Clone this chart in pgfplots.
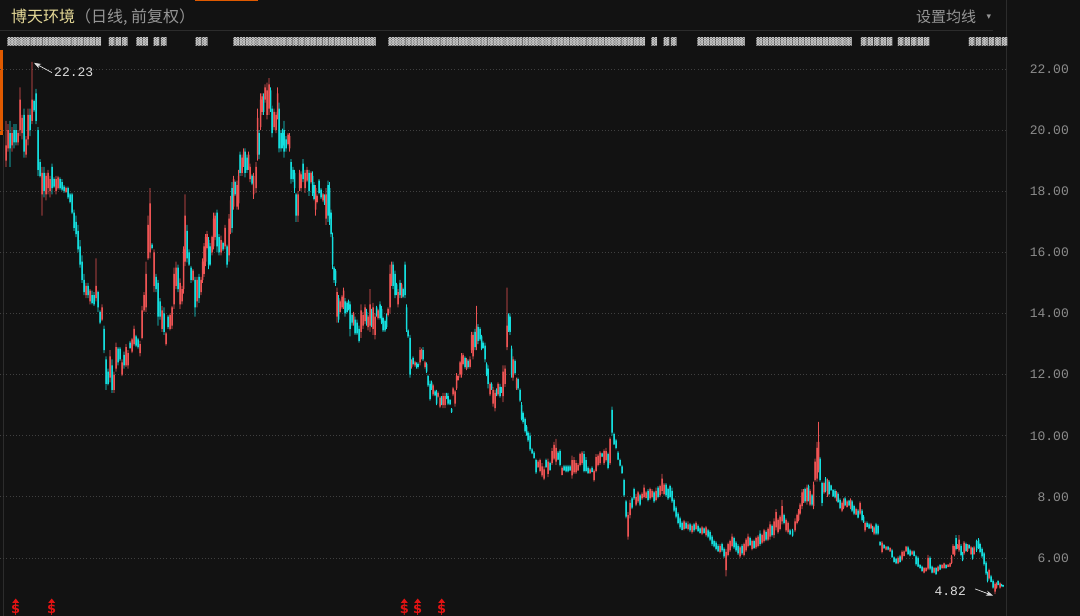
\documentclass[border=0pt]{standalone}
\usepackage{pgfplots}
\pgfplotsset{compat=1.18}
\usepackage{pgfplotstable}
\usetikzlibrary{arrows.meta}
\usepackage{fontspec}
\setmainfont{Liberation Sans}
\newfontfamily\monof{Liberation Mono}
\newfontfamily\cjk{Noto Sans CJK SC}
\newfontfamily\dejavu{DejaVu Sans}
\definecolor{bgc}{RGB}{18,18,18}
\definecolor{upc}{RGB}{238,84,84}
\definecolor{dnc}{RGB}{20,222,222}
\definecolor{gridc}{RGB}{64,64,64}
\definecolor{tickc}{RGB}{140,140,140}
\definecolor{titlec}{RGB}{228,216,150}
\definecolor{subc}{RGB}{150,150,150}
\definecolor{linec}{RGB}{44,44,44}
\definecolor{mosc}{RGB}{205,205,205}
\definecolor{annc}{RGB}{222,222,222}
\definecolor{divc}{RGB}{225,20,20}
\definecolor{orc}{RGB}{224,90,0}

\pgfplotstableread{
x d l h bl bh
6 1 18.8 20.3 19.0 19.5
8 1 19.3 20.2 19.4 20.0
10 0 18.8 20.3 19.4 19.9
12 1 19.3 20.1 19.5 19.9
14 0 19.4 20.2 19.6 20.0
16 0 19.5 20.2 19.6 20.0
18 1 19.5 20.0 19.6 19.9
20 1 19.8 21.4 20.0 21.0
22 1 19.7 20.5 19.9 20.4
24 0 19.1 20.7 19.3 20.5
26 1 19.1 19.8 19.2 19.7
28 1 19.5 20.7 19.7 20.5
30 0 19.8 20.7 20.0 20.5
32 1 20.2 22.23 20.3 21.0
34 0 20.6 21.0 20.65 20.95
36 0 20.2 21.35 20.3 21.2
38 0 18.5 20.1 18.7 20.0
40 0 18.45 19.05 18.5 18.95
42 1 17.2 18.8 17.9 18.6
44 0 17.8 18.8 18.0 18.6
46 1 17.7 18.6 17.9 18.5
48 1 17.9 18.7 18.1 18.6
50 1 17.8 18.5 18.0 18.4
52 0 17.9 18.9 18.1 18.8
54 0 18.1 18.45 18.15 18.4
56 1 17.9 18.5 18.0 18.4
58 1 18.05 18.5 18.1 18.45
60 0 18.05 18.45 18.1 18.4
62 0 18.0 18.4 18.05 18.3
64 0 17.95 18.2 18.0 18.15
66 1 17.95 18.15 17.98 18.1
68 0 17.75 18.15 17.8 18.1
70 0 17.6 17.95 17.65 17.9
72 0 17.25 17.95 17.3 17.9
74 0 16.7 17.4 16.8 17.3
76 0 16.5 17.2 16.6 17.0
78 0 16.0 16.9 16.1 16.7
80 0 15.5 16.4 15.6 16.2
82 0 15.0 15.9 15.1 15.7
84 0 14.6 15.3 14.7 15.1
86 1 14.5 15.0 14.6 14.9
88 0 14.5 15.0 14.6 14.9
90 1 14.3 14.8 14.4 14.75
92 0 14.3 14.75 14.35 14.6
94 0 14.25 14.7 14.3 14.6
96 1 14.4 15.8 14.5 14.9
98 0 14.05 14.75 14.2 14.7
100 0 13.65 14.1 13.7 14.05
102 1 13.75 14.3 13.8 14.2
104 0 12.7 13.6 12.8 13.5
106 0 11.5 12.6 11.7 12.5
108 0 11.65 12.2 11.7 12.1
110 1 11.75 12.8 11.9 12.6
112 0 11.4 12.5 11.5 12.3
114 1 11.4 12.1 11.5 12.0
116 1 12.1 13.05 12.2 12.9
118 0 12.3 12.9 12.4 12.85
120 0 12.45 12.9 12.5 12.85
122 1 11.95 12.5 12.0 12.4
124 0 12.2 12.75 12.3 12.65
126 1 12.25 13.0 12.3 12.9
128 1 12.2 12.8 12.3 12.7
130 0 12.85 13.1 12.87 13.05
132 1 12.7 13.2 12.75 13.15
134 1 12.95 13.6 13.0 13.5
136 0 12.9 13.3 12.95 13.25
138 0 12.85 13.2 12.9 13.15
140 1 12.6 13.1 12.7 13.0
142 1 13.15 14.25 13.2 14.1
144 1 14.05 14.7 14.1 14.6
146 1 14.05 15.7 14.2 15.3
148 1 15.75 17.2 15.8 16.9
150 1 15.8 18.1 16.0 17.6
152 0 16.1 16.3 16.15 16.25
154 1 14.7 16.1 14.9 16.0
156 0 14.7 15.3 14.8 15.2
158 0 13.6 15.1 13.9 15.0
160 0 13.8 14.5 13.9 14.4
162 1 13.4 14.25 13.5 14.1
164 0 13.3 14.2 13.4 14.0
166 1 12.95 13.4 13.0 13.35
168 0 13.5 13.95 13.55 13.9
170 1 13.45 14.0 13.5 13.95
172 1 13.5 14.25 13.6 14.2
174 1 14.15 15.5 14.3 15.3
176 1 14.8 15.7 14.9 15.5
178 0 14.7 15.6 14.8 15.5
180 1 14.15 15.15 14.3 15.0
182 1 14.3 14.9 14.4 14.8
183.5 1 14.65 16.2 14.8 16.1
185 1 15.55 17.9 15.7 17.2
187 0 15.67 16.9 15.8 16.7
189 0 15.56 16.1 15.6 16.0
191 0 15.0 15.56 15.1 15.5
193 1 15.05 15.45 15.1 15.4
195 0 13.9 15.2 14.2 15.1
197 1 14.2 15.2 14.4 15.1
199 0 14.35 15.3 14.5 15.2
201 1 14.6 15.2 14.7 15.1
202.5 1 15.0 15.8 15.1 15.7
204 1 15.2 16.3 15.3 16.2
205.5 1 15.55 16.6 15.7 16.5
207 1 16.1 16.7 16.15 16.6
208.5 0 15.45 16.5 15.6 16.4
210 0 15.55 16.3 15.6 16.2
212 1 15.9 16.55 16.0 16.5
213.5 1 16.1 17.3 16.2 17.1
215 1 16.4 17.3 16.5 17.2
217 0 16.0 17.4 16.2 17.3
219 0 15.9 16.6 16.0 16.5
221 1 15.9 16.55 16.0 16.4
223 0 16.05 16.35 16.1 16.3
225 1 16.1 16.9 16.2 16.8
227 0 15.5 16.25 15.6 16.2
229 1 15.7 17.25 15.9 17.1
230.5 1 16.6 17.85 16.8 17.7
232 0 16.65 18.3 16.8 18.1
233.5 1 17.4 18.5 17.5 18.4
235 0 17.85 18.35 17.9 18.3
237 1 17.4 18.35 17.5 18.2
238.5 1 17.4 18.7 17.6 18.5
240 0 18.5 19.3 18.6 19.2
242 1 18.5 19.2 18.6 19.1
243.5 1 18.8 19.4 18.9 19.3
245 0 18.45 19.4 18.6 19.3
247 0 18.6 19.2 18.7 19.1
248.5 1 18.7 19.3 18.8 19.2
250 1 18.3 18.9 18.4 18.8
252 0 18.2 18.55 18.25 18.5
253.5 1 17.75 18.6 17.9 18.5
256 1 17.95 18.95 18.1 18.8
257.5 1 19.0 20.7 19.2 20.4
259 0 19.05 20.0 19.2 19.9
260.5 1 20.0 21.2 20.1 21.0
262 1 20.5 21.2 20.6 21.1
263.5 0 20.5 21.2 20.6 21.1
265 1 20.9 21.5 21.0 21.4
267 1 20.35 21.55 20.5 21.3
269 1 20.5 21.7 20.7 21.5
270.5 0 20.6 21.4 20.8 21.3
272 0 19.76 20.8 19.9 20.7
274 1 20.0 20.7 20.1 20.6
276 1 19.9 20.6 20.0 20.5
277.5 1 20.35 21.4 20.5 21.2
279 0 19.27 20.9 19.4 20.7
281 0 19.3 20.0 19.4 19.9
282.5 0 19.4 20.05 19.5 19.9
284 0 19.1 20.3 19.3 20.0
286 0 19.3 19.8 19.4 19.7
288 1 19.5 19.9 19.55 19.85
289.5 1 19.3 19.9 19.4 19.8
291 0 18.25 19.05 18.4 18.95
293 0 18.3 18.8 18.4 18.7
294.5 0 17.95 18.7 18.1 18.6
296 0 17.0 17.95 17.2 17.9
298 1 17.0 18.0 17.2 17.9
299.5 1 18.0 18.7 18.1 18.6
301 1 18.0 18.65 18.1 18.55
303 0 18.3 19.05 18.4 18.9
305 1 17.95 18.7 18.1 18.6
307 1 18.3 18.8 18.35 18.7
309 0 17.85 18.7 18.0 18.6
311 1 18.25 18.65 18.3 18.6
312.5 0 17.85 18.65 17.95 18.5
314 0 17.7 18.3 17.75 18.2
315.5 1 17.2 18.2 17.4 18.1
317 1 17.6 17.9 17.65 17.85
319 0 17.9 18.4 17.95 18.35
321 0 17.75 18.1 17.8 18.05
323 1 17.65 17.95 17.7 17.9
324.5 0 17.55 17.9 17.6 17.85
326 1 16.9 18.1 17.1 17.9
328 0 17.0 18.35 17.2 18.2
329.5 0 16.9 18.3 17.1 18.1
331 0 16.5 17.4 16.6 17.3
332.5 0 15.45 16.65 15.6 16.5
334 0 15.0 15.55 15.1 15.5
335.5 0 14.9 15.45 15.0 15.4
337 1 13.7 14.85 13.9 14.7
338.5 0 13.7 14.6 13.8 14.5
340 1 14.0 14.45 14.05 14.4
342 1 14.15 14.6 14.2 14.55
343.5 1 14.15 14.85 14.3 14.75
345 0 13.9 14.5 14.0 14.4
347 0 14.0 14.4 14.05 14.35
348.5 0 14.1 14.45 14.15 14.4
350 0 13.25 14.4 13.5 14.3
352 0 13.6 14.0 13.7 13.95
353.5 1 13.6 14.05 13.65 14.0
355 0 13.3 13.9 13.35 13.8
357 0 13.3 13.8 13.35 13.7
359 0 13.05 13.6 13.1 13.5
361 1 13.2 14.3 13.4 14.1
363 1 13.5 14.05 13.6 13.95
365 1 13.65 14.3 13.75 14.2
366.5 0 13.6 14.15 13.7 14.05
368 1 13.45 13.95 13.55 13.9
370 1 13.4 14.8 13.6 14.3
371.5 0 13.55 14.15 13.6 14.05
373 1 13.3 14.35 13.5 14.2
375 1 13.15 14.0 13.3 13.9
376.5 0 13.9 14.25 13.95 14.2
378 1 13.8 14.15 13.85 14.1
380 0 13.8 14.4 13.85 14.3
381.5 0 13.65 14.25 13.7 14.15
383 0 13.4 13.9 13.45 13.85
385 0 13.4 13.8 13.45 13.75
386.5 0 13.5 14.0 13.55 13.9
388 1 13.9 14.2 13.95 14.15
390 1 14.0 15.6 14.2 15.3
391.5 1 14.9 15.7 15.0 15.6
393 0 14.8 15.7 14.9 15.6
395 0 14.5 15.4 14.6 15.3
396.5 0 14.6 15.0 14.65 14.95
398 1 14.2 14.8 14.3 14.7
400 0 14.5 15.1 14.6 15.0
401.5 1 14.5 15.0 14.55 14.95
403 0 14.5 14.85 14.55 14.8
405 0 14.5 15.7 14.6 15.6
406.5 0 13.4 14.3 13.5 14.2
408 0 13.2 13.5 13.25 13.45
410 0 11.9 13.3 12.0 13.2
411.5 1 12.2 12.5 12.25 12.45
413 0 12.3 12.6 12.35 12.55
415 1 12.25 12.45 12.3 12.4
416.5 0 12.2 12.4 12.25 12.35
418 0 12.2 12.4 12.25 12.35
420 1 12.3 12.9 12.4 12.8
421.5 1 12.5 12.85 12.55 12.8
423 0 12.45 12.9 12.5 12.8
425 1 12.2 12.45 12.25 12.4
426.5 0 12.05 12.4 12.1 12.35
428 0 11.6 12.0 11.65 11.95
430 0 11.15 11.8 11.2 11.7
431.5 0 11.5 11.8 11.55 11.75
433 1 11.3 11.7 11.35 11.65
435 0 11.3 11.5 11.32 11.45
436.5 0 11.0 11.5 11.05 11.4
438 1 11.25 11.45 11.28 11.4
440 1 10.9 11.3 10.95 11.25
441.5 0 11.0 11.3 11.05 11.25
443 1 10.9 11.4 11.0 11.3
445 1 10.9 11.4 11.0 11.3
446.5 0 11.2 11.4 11.22 11.38
448 0 11.0 11.4 11.05 11.3
450 0 11.0 11.2 11.03 11.17
451.5 0 10.75 10.9 10.77 10.88
453 1 11.3 11.6 11.35 11.55
455 1 10.95 11.5 11.05 11.45
456.5 1 11.5 12.05 11.55 11.95
458 1 11.8 12.0 11.82 11.95
460 1 11.9 12.45 12.0 12.4
461.5 1 11.9 12.7 12.0 12.6
463 1 12.3 12.7 12.35 12.65
465 0 12.2 12.6 12.25 12.55
466.5 1 12.15 12.55 12.2 12.5
468 0 12.2 12.5 12.25 12.45
470 1 12.2 12.6 12.25 12.5
471.5 1 12.7 13.4 12.8 13.3
473 1 12.5 13.4 12.6 13.3
475 0 12.8 13.5 12.9 13.4
476.5 1 12.8 14.25 13.0 13.6
478 0 13.0 13.65 13.1 13.55
480 0 13.1 13.55 13.15 13.5
481.5 0 12.8 13.3 12.85 13.25
483 0 12.85 13.1 12.87 13.05
485 0 12.4 13.05 12.5 12.95
486.5 0 11.95 12.4 12.0 12.35
488 0 11.55 12.3 11.7 12.2
490 1 11.3 11.75 11.35 11.7
491.5 0 11.5 11.75 11.55 11.7
493 1 10.95 11.6 11.05 11.5
495 1 10.8 11.5 10.9 11.4
496.5 0 11.3 11.55 11.35 11.5
498 1 11.3 11.75 11.35 11.7
500 0 11.25 11.7 11.3 11.6
501.5 0 11.4 11.6 11.42 11.55
503 1 11.1 12.3 11.3 12.1
505 1 11.6 12.3 11.7 12.2
507 1 12.8 14.85 12.9 13.6
508.5 0 13.4 14.0 13.45 13.95
510 0 13.3 14.0 13.4 13.9
511.5 0 11.9 12.95 12.0 12.85
513 1 11.8 12.6 11.9 12.5
515 0 12.0 12.5 12.05 12.45
516.5 1 11.5 11.9 11.55 11.85
518 0 11.5 11.9 11.55 11.85
520 0 11.1 11.55 11.15 11.5
521.5 0 10.5 11.1 10.55 11.0
523 0 10.4 10.8 10.45 10.75
525 0 10.1 10.6 10.15 10.55
526.5 0 10.0 10.35 10.02 10.3
528 0 9.8 10.15 9.85 10.1
530 0 9.5 10.1 9.55 10.0
532 0 9.4 9.6 9.42 9.55
534 0 9.25 9.5 9.27 9.45
536 0 8.75 9.25 8.8 9.2
538 1 8.95 9.2 8.97 9.15
540 1 8.8 9.25 8.85 9.2
542 1 8.65 9.1 8.7 9.0
544 1 8.55 9.0 8.6 8.9
546 0 8.95 9.25 8.97 9.2
548 1 8.65 9.25 8.75 9.15
550 0 8.85 9.15 8.88 9.1
552 1 9.05 9.6 9.1 9.5
554 1 9.2 9.8 9.25 9.7
556 1 9.05 9.9 9.15 9.6
558 0 9.2 9.5 9.22 9.45
560 0 9.0 9.55 9.05 9.5
562 1 8.7 9.0 8.72 8.95
564 0 8.85 9.05 8.87 9.0
566 0 8.8 9.05 8.83 9.0
568 0 8.8 9.05 8.83 9.0
570 0 8.85 9.05 8.87 9.0
572 1 8.6 9.35 8.7 9.2
574 1 8.75 9.3 8.8 9.2
576 1 8.75 9.2 8.8 9.1
578 1 8.85 9.1 8.87 9.05
580 1 9.0 9.45 9.05 9.4
582 1 9.05 9.5 9.1 9.45
584 0 8.8 9.5 8.85 9.4
586 0 8.8 9.3 8.85 9.2
588 0 8.75 9.0 8.78 8.95
590 1 8.75 8.95 8.78 8.9
592 0 8.8 9.0 8.82 8.95
594 1 8.5 8.9 8.55 8.85
596 1 8.8 9.4 8.85 9.3
598 1 9.0 9.4 9.05 9.35
600 1 9.05 9.5 9.1 9.45
602 0 9.3 9.45 9.32 9.42
604 1 9.05 9.55 9.1 9.5
606 1 9.15 9.6 9.2 9.5
608 0 8.9 9.45 8.95 9.4
610 1 9.05 9.95 9.1 9.9
612 0 10.0 10.95 10.1 10.85
614 0 9.7 10.1 9.72 10.05
616 0 9.55 9.9 9.6 9.85
618 0 9.2 9.5 9.22 9.45
620 0 9.0 9.25 9.02 9.2
622 0 8.75 9.05 8.78 9.0
624 0 8.0 8.6 8.05 8.55
626 0 7.3 7.9 7.35 7.85
628 1 6.6 7.5 6.7 7.4
630 1 7.3 7.9 7.4 7.8
632 0 7.6 8.0 7.65 7.95
634 0 7.9 8.3 7.95 8.25
636 1 7.7 8.1 7.75 8.0
638 1 7.8 8.2 7.85 8.15
640 0 7.7 8.1 7.75 8.05
642 1 7.9 8.15 7.95 8.1
644 1 7.95 8.4 8.0 8.3
646 1 7.95 8.2 7.97 8.15
648 0 7.85 8.25 7.9 8.2
650 1 7.9 8.3 7.95 8.25
652 1 7.95 8.25 8.0 8.2
654 0 7.8 8.2 7.85 8.15
656 1 7.85 8.3 7.9 8.2
658 0 7.95 8.35 8.0 8.3
660 1 8.0 8.4 8.05 8.35
662 1 8.1 8.75 8.2 8.6
664 1 8.05 8.45 8.1 8.4
666 0 8.0 8.45 8.05 8.4
668 0 7.9 8.3 7.95 8.25
670 0 7.95 8.4 8.0 8.35
672 0 7.8 8.3 7.85 8.2
674 0 7.5 7.95 7.55 7.9
676 0 7.3 7.7 7.35 7.65
678 0 7.1 7.5 7.15 7.45
680 0 6.95 7.35 7.0 7.3
682 0 6.9 7.2 6.92 7.15
684 1 6.9 7.25 6.95 7.2
686 0 6.95 7.2 6.97 7.15
688 1 6.9 7.2 6.95 7.1
690 0 6.85 7.15 6.9 7.1
692 1 6.8 7.1 6.85 7.05
694 0 6.85 7.15 6.9 7.1
696 1 6.9 7.2 6.95 7.15
698 0 6.85 7.1 6.88 7.05
700 0 6.8 7.0 6.82 6.97
702 1 6.75 7.05 6.8 7.0
704 0 6.8 7.0 6.82 6.97
706 1 6.7 7.05 6.75 7.0
708 0 6.65 6.95 6.7 6.9
710 0 6.55 6.9 6.6 6.85
712 0 6.4 6.75 6.45 6.7
714 0 6.35 6.6 6.38 6.55
716 0 6.25 6.55 6.3 6.5
718 0 6.2 6.45 6.22 6.4
720 1 6.15 6.45 6.2 6.4
722 0 6.2 6.5 6.25 6.45
724 0 6.0 6.35 6.05 6.3
726 1 5.4 6.3 5.6 6.2
728 1 6.05 6.5 6.1 6.45
730 1 6.2 6.6 6.25 6.55
732 1 6.35 6.8 6.4 6.7
734 0 6.3 6.7 6.35 6.65
736 0 6.2 6.55 6.25 6.5
738 0 6.1 6.45 6.15 6.4
740 1 6.0 6.4 6.05 6.35
742 0 6.1 6.45 6.15 6.4
744 1 6.05 6.5 6.1 6.45
746 1 6.2 6.65 6.25 6.6
748 1 6.35 6.8 6.4 6.7
750 0 6.4 6.7 6.42 6.65
752 1 6.25 6.6 6.3 6.55
754 0 6.3 6.6 6.33 6.55
756 1 6.3 6.7 6.35 6.65
758 1 6.35 6.75 6.4 6.7
760 0 6.4 6.9 6.45 6.8
762 1 6.45 6.8 6.5 6.75
764 1 6.5 6.95 6.55 6.9
766 0 6.55 6.9 6.6 6.85
768 1 6.55 7.0 6.6 6.95
770 1 6.6 7.2 6.7 7.1
772 0 6.7 7.1 6.75 7.05
774 1 6.65 7.3 6.75 7.2
776 1 6.9 7.6 7.0 7.5
778 1 6.8 7.3 6.85 7.25
780 1 6.9 7.4 6.95 7.35
782 1 7.1 7.9 7.2 7.7
784 0 7.1 7.45 7.15 7.4
786 1 6.85 7.3 6.9 7.25
788 1 6.8 7.2 6.85 7.15
790 0 6.75 6.95 6.77 6.9
792.5 0 6.7 6.95 6.73 6.9
795 1 6.85 7.3 6.9 7.2
797 1 7.1 7.45 7.15 7.4
798.5 1 7.2 7.6 7.25 7.55
800 1 7.4 7.8 7.45 7.75
802 1 7.6 8.25 7.7 8.15
803.5 1 7.8 8.25 7.85 8.2
805 0 7.8 8.3 7.85 8.25
807 1 7.75 8.4 7.85 8.3
808.5 0 7.85 8.4 7.9 8.35
810 1 7.7 8.25 7.75 8.2
812 0 7.7 8.1 7.75 8.05
813.5 1 7.6 8.5 7.7 8.4
815 1 8.5 9.25 8.55 9.15
817 1 8.5 9.8 8.6 9.6
818.5 1 8.8 10.45 8.9 9.8
820 0 8.5 9.3 8.55 9.25
822 0 7.7 8.5 7.8 8.45
824 1 8.1 8.5 8.15 8.45
825.5 0 8.15 8.65 8.2 8.6
827.5 1 8.0 8.6 8.05 8.55
829 0 8.05 8.55 8.1 8.5
831 0 8.2 8.4 8.22 8.38
833 0 8.0 8.25 8.02 8.22
835 0 7.95 8.25 7.98 8.2
836.5 1 7.85 8.2 7.88 8.15
838 0 7.8 8.15 7.83 8.1
840 0 7.6 7.95 7.63 7.9
842 1 7.5 7.85 7.55 7.8
843.5 1 7.6 7.95 7.65 7.9
845 0 7.7 8.0 7.72 7.95
847 1 7.65 7.9 7.67 7.85
849 0 7.7 7.9 7.72 7.88
850.5 1 7.6 7.95 7.65 7.9
852 0 7.5 7.9 7.55 7.85
854 0 7.4 7.75 7.45 7.7
856 1 7.4 7.65 7.42 7.6
858 0 7.3 7.6 7.32 7.55
860 1 7.4 7.85 7.45 7.8
862 0 7.2 7.6 7.25 7.55
863.5 0 7.15 7.4 7.17 7.35
865 1 6.85 7.2 6.9 7.15
867 0 7.0 7.2 7.02 7.15
869 0 6.95 7.15 6.97 7.1
871 1 6.95 7.15 6.97 7.1
872.5 0 6.85 7.05 6.87 7.0
874 1 6.75 7.05 6.8 7.0
876 0 6.75 7.15 6.8 7.1
878 0 6.75 7.1 6.8 7.05
880 0 6.4 6.55 6.42 6.52
882 1 6.15 6.55 6.2 6.5
884 0 6.3 6.45 6.32 6.42
886 1 6.25 6.4 6.27 6.37
888 0 6.25 6.4 6.27 6.37
890 1 6.2 6.35 6.22 6.33
892 0 6.0 6.3 6.03 6.25
894 0 5.85 6.05 5.87 6.02
896 0 5.8 6.0 5.82 5.97
898 1 5.8 6.05 5.82 6.0
900 0 5.85 6.1 5.87 6.05
902 1 5.9 6.25 5.95 6.2
904 1 6.05 6.25 6.07 6.22
906 1 6.2 6.4 6.22 6.37
908 0 6.1 6.4 6.13 6.35
910 0 6.05 6.3 6.08 6.25
912 1 6.1 6.25 6.12 6.22
914 0 6.05 6.25 6.07 6.22
916 0 5.75 6.1 5.8 6.05
918 0 5.7 6.05 5.72 6.0
920 0 5.65 5.8 5.67 5.77
922 0 5.55 5.75 5.57 5.72
924 1 5.5 5.7 5.52 5.67
926 1 5.55 5.7 5.57 5.67
928 1 5.6 6.1 5.65 6.0
930 0 5.6 6.05 5.65 6.0
932 0 5.5 5.75 5.52 5.72
934 1 5.5 5.7 5.52 5.67
936 0 5.45 5.7 5.47 5.67
938 1 5.55 5.75 5.57 5.72
940 0 5.6 5.8 5.62 5.77
942 1 5.65 5.8 5.67 5.77
944 1 5.65 5.85 5.67 5.82
946 0 5.65 5.8 5.67 5.77
948 1 5.7 5.8 5.71 5.78
950 1 5.7 5.85 5.72 5.82
951.5 1 5.8 6.1 5.83 6.05
953 1 6.1 6.45 6.13 6.4
954.5 1 6.05 6.4 6.1 6.35
956 0 6.25 6.75 6.3 6.65
957.5 1 6.3 6.45 6.32 6.42
959 1 6.2 6.75 6.25 6.6
961 0 6.05 6.45 6.1 6.4
962.5 0 5.9 6.2 5.93 6.15
964 1 6.1 6.55 6.15 6.5
966 0 6.2 6.5 6.23 6.45
967.5 1 6.2 6.45 6.23 6.4
969 0 6.3 6.45 6.32 6.42
971 1 6.1 6.4 6.13 6.35
972.5 0 5.95 6.35 6.0 6.3
974 1 6.1 6.4 6.13 6.35
976.5 0 6.2 6.6 6.25 6.55
978.5 0 6.3 6.65 6.33 6.6
980 0 6.15 6.5 6.2 6.45
982 0 6.0 6.35 6.05 6.3
984 0 5.75 6.2 5.8 6.15
986 0 5.45 5.9 5.5 5.85
987.5 0 5.2 5.55 5.25 5.5
989 1 5.3 5.65 5.33 5.6
991 0 5.2 5.45 5.22 5.4
993 0 5.0 5.3 5.03 5.25
995 1 4.82 5.2 4.9 5.15
996.5 1 5.0 5.2 5.03 5.15
998 0 5.1 5.27 5.12 5.25
1000 1 5.0 5.2 5.03 5.17
1001.5 0 5.07 5.15 5.08 5.13
1003 0 5.05 5.13 5.06 5.11
}\candles

\pgfplotsset{
  frame/.style={
    at={(0pt,0pt)}, anchor=south west, scale only axis,
    width=1006pt, height=586pt,
    xmin=0, xmax=1006, ymin=4.102, ymax=23.276,
    axis line style={draw=none}, tick style={draw=none},
    major tick length=0pt, xtick=\empty, clip=false,
  },
}

\begin{document}
\begin{tikzpicture}
\fill[bgc] (0,0) rectangle (1080pt,616pt);
\draw[linec, line width=1pt] (0,585.5pt) -- (993pt,585.5pt);
\draw[linec, line width=1pt] (1006.5pt,0) -- (1006.5pt,616pt);
\draw[linec, line width=1pt] (3.5pt,0) -- (3.5pt,481pt);
\fill[orc] (0,481pt) rectangle (3pt,566pt);
\fill[orc] (195pt,615pt) rectangle (258pt,616pt);
% main axis: grid, price labels, candle bodies
\begin{axis}[frame,
  ytick={6,8,10,12,14,16,18,20,22},
  yticklabels={6.00,8.00,10.00,12.00,14.00,16.00,18.00,20.00,22.00},
  yticklabel pos=right,
  yticklabel style={anchor=east, inner sep=0pt, xshift=63pt, text=tickc, font=\monof\fontsize{13}{13}\selectfont},
  ymajorgrids,
  grid style={gridc, line width=0.9pt, dash pattern=on 1pt off 2.2pt},
  ybar stacked, bar width=1.5pt,
]
\addplot[draw=none, fill=none, forget plot] table[x=x, y=bl] {\candles};
\addplot[draw=none, fill=upc, forget plot] table[x=x, y expr={\thisrow{d}*(\thisrow{bh}-\thisrow{bl})}] {\candles};
\addplot[draw=none, fill=dnc, forget plot] table[x=x, y expr={(1-\thisrow{d})*(\thisrow{bh}-\thisrow{bl})}] {\candles};
\end{axis}
% overlay axis: candle wicks
\begin{axis}[frame, ytick=\empty, ybar stacked, bar width=0.9pt]
\addplot[draw=none, fill=none, forget plot] table[x=x, y=l] {\candles};
\addplot[draw=none, fill=upc, forget plot] table[x=x, y expr={\thisrow{d}*(\thisrow{h}-\thisrow{l})}] {\candles};
\addplot[draw=none, fill=dnc, forget plot] table[x=x, y expr={(1-\thisrow{d})*(\thisrow{h}-\thisrow{l})}] {\candles};
% annotations
\draw[annc, line width=0.7pt, -{Stealth[length=7pt,width=5pt]}] (axis cs:52,21.88) -- (axis cs:34,22.2);
\node[anchor=west, inner sep=0pt, text=annc, font=\monof\fontsize{13}{13}\selectfont] at (axis cs:54,21.88) {22.23};
\node[anchor=east, inner sep=0pt, text=annc, font=\monof\fontsize{13}{13}\selectfont] at (axis cs:966,4.92) {4.82};
\draw[annc, line width=0.7pt, -{Stealth[length=7pt,width=5pt]}] (axis cs:975,4.99) -- (axis cs:993,4.77);
\end{axis}
% header
\node[anchor=west, inner sep=0pt] at (11pt,599pt) {\cjk\fontsize{16}{16}\selectfont\textcolor{titlec}{博天环境}\textcolor{subc}{（日线, 前复权）}};
\node[anchor=west, inner sep=0pt, text=subc] at (916pt,599pt) {\cjk\fontsize{15}{15}\selectfont 设置均线};
\node[inner sep=0pt, text=subc] at (989pt,599pt) {\dejavu\fontsize{9}{9}\selectfont ▾};
% obscured moving-average values
\foreach \a/\b in {7/101,108/128,136/148,152/168,195/208,233/376,388/645,651/657,662/678,697/745,756/852,860/893,897/930,968/1008}{
  \pgfmathsetmacro{\w}{\b-\a}
  \node[anchor=west, inner sep=0pt, text=mosc] at (\a pt,574pt) {\dejavu\fontsize{7.5}{8}\selectfont\hbox to \w pt{\xleaders\hbox{▓}\hfill}};
}
% dividend markers
\foreach \xx in {15.7,51.7,404.3,417.7,441.7}{
  \fill[divc] ({\xx pt-3.5pt},13pt) -- ({\xx pt+3.5pt},13pt) -- (\xx pt,17.5pt) -- cycle;
  \node[text=divc, inner sep=0pt] at (\xx pt,6.5pt) {\dejavu\bfseries\fontsize{13}{13}\selectfont\$};
}
\pgfresetboundingbox
\useasboundingbox (0,0) rectangle (1080pt,616pt);
\end{tikzpicture}
\end{document}
